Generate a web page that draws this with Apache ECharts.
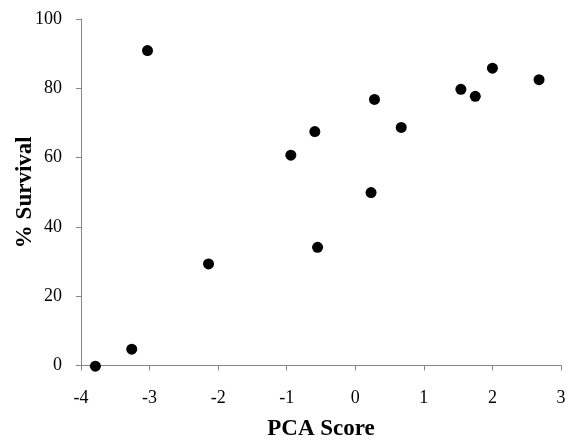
<!DOCTYPE html>
<html>
<head>
<meta charset="utf-8">
<script src="https://cdn.jsdelivr.net/npm/echarts@6/dist/echarts.min.js"></script>
<style>
html,body{margin:0;padding:0;background:#fff;}
#chart{width:569px;height:446px;}
</style>
</head>
<body>
<div id="chart"></div>
<script>
const pcaScore = [-3.79, -3.26, -3.03, -2.14, -0.94, -0.59, -0.55, 0.23, 0.28, 0.67, 1.54, 1.75, 2.0, 2.68];
const survival = [-0.2, 4.7, 90.9, 29.3, 60.7, 67.5, 34.1, 49.9, 76.8, 68.7, 79.7, 77.7, 85.8, 82.5];
const xTitle = 'PCA Score';
const yTitle = '% Survival';

const points = pcaScore.map((x, i) => [x, survival[i]]);
const font = 'Liberation Serif, Times New Roman, serif';
const axisLine = { lineStyle: { color: '#868686', width: 1 } };

const chart = echarts.init(document.getElementById('chart'), null, { renderer: 'canvas' });
chart.setOption({
  animation: false,
  backgroundColor: '#ffffff',
  grid: { left: 81, right: 8, top: 19, bottom: 80.5, containLabel: false, outerBoundsMode: 'none' },
  xAxis: {
    type: 'value', min: -4, max: 3, interval: 1,
    name: xTitle, nameLocation: 'middle', nameGap: 52, nameMoveOverlap: false,
    nameTextStyle: { fontFamily: font, fontSize: 23, fontWeight: 'bold', color: '#000' },
    axisLine: Object.assign({ onZero: false }, axisLine),
    axisTick: { show: true, length: 5, lineStyle: { color: '#868686' } },
    axisLabel: { fontFamily: font, fontSize: 18, color: '#000', margin: 24 },
    splitLine: { show: false }
  },
  yAxis: {
    type: 'value', min: 0, max: 100, interval: 20,
    name: yTitle, nameLocation: 'middle', nameGap: 44, nameMoveOverlap: false,
    nameTextStyle: { fontFamily: font, fontSize: 23, fontWeight: 'bold', color: '#000' },
    axisLine: Object.assign({ show: true, onZero: false }, axisLine),
    axisTick: { show: true, length: 5, lineStyle: { color: '#868686' } },
    axisLabel: { fontFamily: font, fontSize: 18, color: '#000', margin: 19 },
    splitLine: { show: false }
  },
  series: [{
    type: 'scatter',
    data: points,
    symbol: 'circle',
    symbolSize: 11,
    itemStyle: { color: '#000', opacity: 1 },
    clip: false
  }]
});
</script>
</body>
</html>
